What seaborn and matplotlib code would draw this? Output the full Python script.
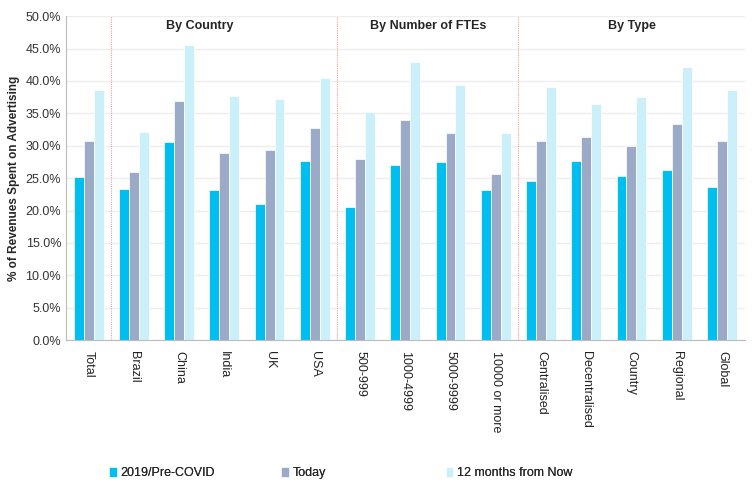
import pandas as pd
import matplotlib.pyplot as plt
import seaborn as sns
from matplotlib.ticker import PercentFormatter

categories = ["Total", "Brazil", "China", "India", "UK", "USA",
              "500-999", "1000-4999", "5000-9999", "10000 or more",
              "Centralised", "Decentralised", "Country", "Regional", "Global"]
pre_covid = [25.1, 23.3, 30.5, 23.2, 21.0, 27.7, 20.5, 27.1, 27.5, 23.2, 24.5, 27.7, 25.3, 26.3, 23.6]
today = [30.8, 25.9, 36.9, 28.9, 29.3, 32.8, 27.9, 33.9, 31.9, 25.6, 30.7, 31.3, 30.0, 33.4, 30.7]
next_12m = [38.6, 32.1, 45.6, 37.7, 37.2, 40.5, 35.2, 42.9, 39.4, 31.9, 39.0, 36.5, 37.5, 42.1, 38.6]
series = ["2019/Pre-COVID", "Today", "12 months from Now"]
colors = ["#00BFF0", "#9BAAC6", "#CCF0FA"]
groups = ["By Country", "By Number of FTEs", "By Type"]
group_x = [2.45, 7.5, 12.0]
dividers = [0.5, 5.5, 9.5]

rows = []
for vals, name in zip([pre_covid, today, next_12m], series):
    for c, v in zip(categories, vals):
        rows.append({"category": c, "series": name, "value": v})
df = pd.DataFrame(rows)

sns.set_style("white")
plt.rcParams['font.family'] = ['Liberation Sans', 'DejaVu Sans']

fig = plt.figure(figsize=(7.54, 4.9), dpi=100)
ax = fig.add_axes([0.0875, 0.306, 0.9, 0.661])

sns.barplot(data=df, x="category", y="value", hue="series", palette=colors,
            width=0.66, ax=ax, saturation=1, edgecolor="white", linewidth=0.5)

ax.set_ylim(0, 50)
ax.set_xlim(-0.5, len(categories) - 0.5)
ax.set_yticks(range(0, 51, 5))
ax.yaxis.set_major_formatter(PercentFormatter(decimals=1))
ax.grid(axis="y", color="#EEEEEE", linewidth=1)
ax.set_axisbelow(True)
for s in ["top", "right"]:
    ax.spines[s].set_visible(False)
for s in ["left", "bottom"]:
    ax.spines[s].set_color("#BBBBBB")

ax.set_xlabel("")
ax.set_ylabel("% of Revenues Spent on Advertising", fontsize=8.5, fontweight="bold")
ax.tick_params(axis="y", labelsize=9, colors="#333333", length=0)
ax.tick_params(axis="x", labelsize=9, colors="#222222", length=0, pad=8)
plt.setp(ax.get_xticklabels(), rotation=270, va="top", ha="center")
ax.set_xticks([i + 0.5 for i in range(len(categories))], minor=True)
ax.tick_params(axis="x", which="minor", length=4, color="#BBBBBB")

for d in dividers:
    ax.axvline(d, color="#F5A0A0", linestyle=(0, (1, 1)), linewidth=0.8)
for g, x in zip(groups, group_x):
    ax.text(x, 48.5, g, ha="center", va="center", fontsize=9, fontweight="bold")

handles, labels = ax.get_legend_handles_labels()
ax.get_legend().remove()
legend_x = [0.145, 0.373, 0.591]
for h, l, x in zip(handles, labels, legend_x):
    leg = fig.legend([h], [l], loc="center left", bbox_to_anchor=(x, 0.035),
                     frameon=False, fontsize=9, handlelength=0.6, handleheight=0.9,
                     handletextpad=0.3, borderpad=0, borderaxespad=0)
    fig.add_artist(leg)

fig.savefig("out.png", dpi=100)
